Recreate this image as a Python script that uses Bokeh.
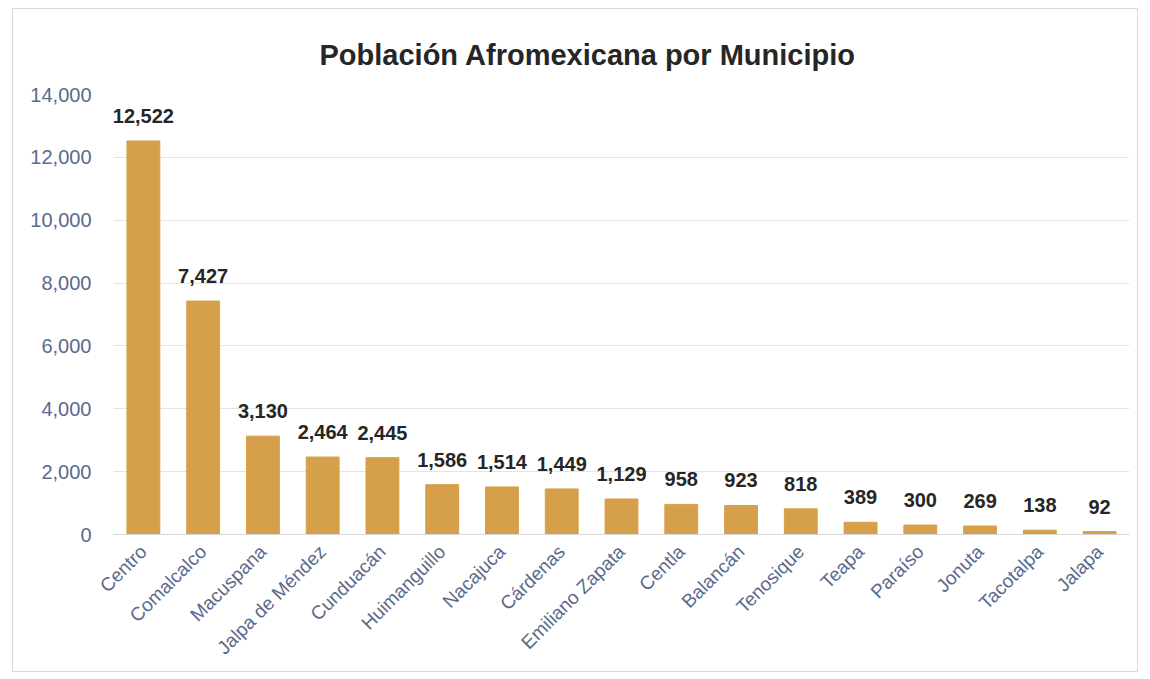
from bokeh.plotting import figure
from bokeh.models import ColumnDataSource, FixedTicker, NumeralTickFormatter, LabelSet, Range1d
from bokeh.embed import file_html
from bokeh.resources import INLINE
from bokeh.core.properties import value
import math

municipios = ["Centro", "Comalcalco", "Macuspana", "Jalpa de Méndez", "Cunduacán",
              "Huimanguillo", "Nacajuca", "Cárdenas", "Emiliano Zapata", "Centla",
              "Balancán", "Tenosique", "Teapa", "Paraíso", "Jonuta", "Tacotalpa", "Jalapa"]
poblacion = [12522, 7427, 3130, 2464, 2445, 1586, 1514, 1449, 1129, 958,
             923, 818, 389, 300, 269, 138, 92]
y_ticks = [0, 2000, 4000, 6000, 8000, 10000, 12000, 14000]

labels = [f"{v:,}" for v in poblacion]
src = ColumnDataSource(dict(x=municipios, y=poblacion, lab=labels))

FONT = "Liberation Sans"
p = figure(x_range=municipios, y_range=Range1d(0, 14000), width=1126, height=664,
           output_backend="svg", toolbar_location=None,
           title="Población Afromexicana por Municipio",
           min_border_left=100, min_border_right=10, min_border_top=85, min_border_bottom=139)
p.styles = {"border": "1px solid #d9d9d9", "box-sizing": "border-box",
            "margin-left": "12px", "margin-top": "8px"}
p.title.text_font = FONT
p.title.text_font_size = "29px"
p.title.text_font_style = "bold"
p.title.text_color = "#262626"
p.title.align = "left"
p.title.offset = 206
p.title.standoff = 47

p.vbar(x="x", top="y", width=0.55, source=src, color="#d6a04a")

p.add_layout(LabelSet(x="x", y="y", text="lab", source=src, text_align="center",
                      text_baseline="bottom", y_offset=18, text_font=value(FONT),
                      text_font_size="20px", text_font_style="bold", text_color="#262626"))

p.outline_line_color = None
p.xgrid.grid_line_color = None
p.ygrid.grid_line_color = "#e4e4e4"
p.yaxis.ticker = FixedTicker(ticks=y_ticks)
p.yaxis.formatter = NumeralTickFormatter(format="0,0")
p.yaxis.axis_line_color = None
p.yaxis.major_tick_line_color = None
p.yaxis.minor_tick_line_color = None
p.yaxis.major_label_text_font = FONT
p.yaxis.major_label_text_font_size = "20px"
p.yaxis.major_label_text_color = "#5a6a8c"
p.yaxis.major_label_standoff = 16

p.xaxis.axis_line_color = "#d9d9d9"
p.xaxis.major_tick_line_color = None
p.xaxis.major_label_orientation = math.pi / 4
p.xaxis.major_label_text_font = FONT
p.xaxis.major_label_text_font_size = "19px"
p.xaxis.major_label_text_color = "#5a6a8c"
p.xaxis.major_label_standoff = 8
p.x_range.range_padding = 0

open("out.html", "w").write(file_html(p, INLINE))
